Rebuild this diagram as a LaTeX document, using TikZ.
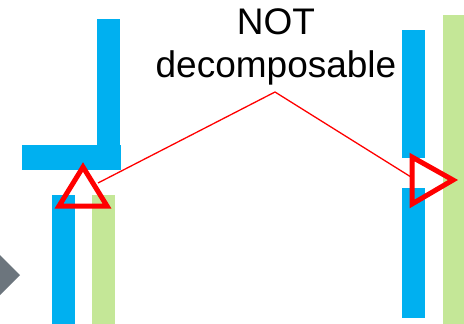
\documentclass[tikz,border=0pt]{standalone}
\usepackage{fontspec}
\setmainfont{Liberation Sans}
\usepackage{xcolor}
\usepackage{tikz}

\definecolor{barblue}{RGB}{0,176,240}
\definecolor{bargreen}{RGB}{196,231,151}
\definecolor{arrowgray}{RGB}{108,117,125}

\tikzset{
  blue bar/.style={fill=barblue, draw=none},
  green bar/.style={fill=bargreen, draw=none},
  warn/.style={draw=red, line width=5pt, line join=miter},
  pointer/.style={draw=red, line width=1.3pt}
}

\begin{document}
\begin{tikzpicture}[x=1pt, y=-1pt]
  \useasboundingbox (0,0) rectangle (464,324);

  % left group
  \fill[arrowgray] (0,255) -- (20,275) -- (0,295) -- cycle;
  \path[blue bar] (97,19) rectangle (120,170);
  \path[blue bar] (22,145) rectangle (121,170);
  \path[blue bar] (52,195) rectangle (75,324);
  \path[green bar] (92,195) rectangle (115,324);

  % right group
  \path[blue bar] (402,30) rectangle (425,158);
  \path[blue bar] (402,188) rectangle (425,318);
  \path[green bar] (443,15) rectangle (464,324);

  \node[font=\fontsize{37}{43}\selectfont, align=center, anchor=north, inner sep=0pt]
    (label) at (276,8) {NOT\\decomposable};
  \coordinate (peak) at (275,92);
  \coordinate (L) at (98,183);
  \coordinate (R) at (411,177);

  \draw[pointer] (L) -- (peak) -- (R);
  \draw[warn] (83,167) -- (59,206) -- (107,206) -- cycle;
  \draw[warn] (412,157) -- (453,180) -- (412,204) -- cycle;
\end{tikzpicture}
\end{document}
